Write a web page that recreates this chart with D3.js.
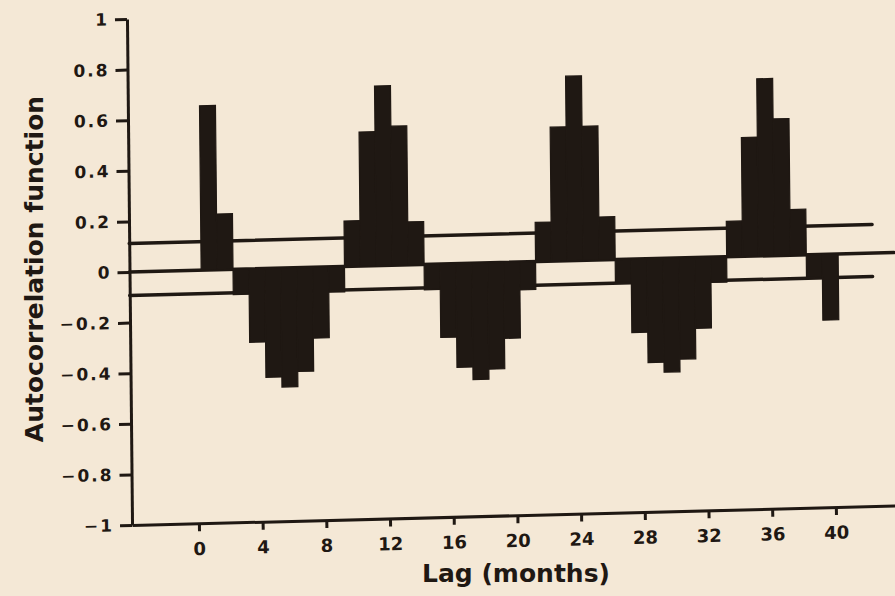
<!DOCTYPE html>
<html>
<head>
<meta charset="utf-8">
<script src="https://cdn.jsdelivr.net/npm/d3@7"></script>
<style>
  html, body { margin: 0; padding: 0; background: #f4e8d6; }
  svg { display: block; }
</style>
</head>
<body>
<script>
// ---- data ----
const lags = [1,2,3,4,5,6,7,8,9,10,11,12,13,14,15,16,17,18,19,20,
              21,22,23,24,25,26,27,28,29,30,31,32,33,34,35,36,37,38,39,40];
const acf  = [0.65, 0.22, -0.10, -0.29, -0.43, -0.47, -0.41, -0.28, -0.10,
              0.18, 0.53, 0.71, 0.55, 0.17,
              -0.10, -0.29, -0.41, -0.46, -0.42, -0.30, -0.11,
              0.155, 0.53, 0.73, 0.53, 0.17,
              -0.09, -0.29, -0.41, -0.45, -0.40, -0.28, -0.10,
              0.14, 0.47, 0.70, 0.54, 0.18,
              -0.09, -0.26];
const upperLimit = 0.113;
const lowerLimit = -0.093;
const xTicks = [0,4,8,12,16,20,24,28,32,36,40];
const yTicks = [1,0.8,0.6,0.4,0.2,0,-0.2,-0.4,-0.6,-0.8,-1];
const yTickLabels = ["1","0.8","0.6","0.4","0.2","0","\u22120.2","\u22120.4","\u22120.6","\u22120.8","\u22121"];
const xTitle = "Lag (months)";
const yTitle = "Autocorrelation function";

// ---- layout ----
const W = 895, H = 596;
const ink = "#1f1813";
const paper = "#f4e8d6";
const font = "'DejaVu Sans', sans-serif";

const svg = d3.select("body").append("svg")
  .attr("width", W).attr("height", H);
svg.append("rect").attr("width", W).attr("height", H).attr("fill", paper);

const x = d3.scaleLinear().domain([-4.2, 44.5]).range([129.5, 905]);
const y = d3.scaleLinear().domain([-1, 1]).range([525, 19]);

// slight skew of the scanned original
const g = svg.append("g")
  .attr("transform", "translate(130,272) matrix(1,-0.0255,0.01,1,0,0) translate(-130,-272)");

// confidence / zero lines
const lines = [
  {v: upperLimit, end: 42.45},
  {v: 0, end: 43.8},
  {v: lowerLimit, end: 42.45}
];
g.selectAll("line.ref").data(lines).join("line")
  .attr("class", "ref")
  .attr("x1", x(-4.2)).attr("x2", d => x(d.end))
  .attr("y1", d => y(d.v)).attr("y2", d => y(d.v))
  .attr("stroke", ink).attr("stroke-width", 3.5)
  .attr("stroke-linecap", "round");

// bars
const barData = lags.map((l, i) => ({lag: l, v: acf[i]}));
g.selectAll("rect.bar").data(barData).join("rect")
  .attr("class", "bar")
  .attr("x", d => x(d.lag - 0.7))
  .attr("width", d => x(d.lag + 0.3) - x(d.lag - 0.7))
  .attr("y", d => Math.min(y(d.v), y(0)))
  .attr("height", d => Math.abs(y(d.v) - y(0)))
  .attr("fill", ink)
  .attr("stroke", ink).attr("stroke-width", 1.2);

// axes
const yAxis = d3.axisLeft(y)
  .tickValues(yTicks)
  .tickFormat((d, i) => yTickLabels[i])
  .tickSize(12).tickSizeOuter(0).tickPadding(6);
const ya = g.append("g").attr("transform", `translate(${x(-4.2)},0)`).call(yAxis);

const xAxis = d3.axisBottom(x)
  .tickValues(xTicks)
  .tickFormat(d => String(d))
  .tickSize(8).tickSizeOuter(0).tickPadding(11);
const xa = g.append("g").attr("transform", `translate(0,${y(-1)})`).call(xAxis);

[ya, xa].forEach(a => {
  a.select(".domain").attr("stroke", ink).attr("stroke-width", 3);
  a.selectAll(".tick line").attr("stroke", ink).attr("stroke-width", 3);
  a.selectAll(".tick text").attr("fill", ink).attr("font-family", font).attr("font-weight", "bold");
});
ya.selectAll(".tick text").attr("font-size", 17).attr("letter-spacing", "2px");
xa.selectAll(".tick text").attr("font-size", 18);

// titles
svg.append("text")
  .attr("x", 516).attr("y", 582)
  .attr("text-anchor", "middle")
  .attr("font-family", font).attr("font-weight", "bold").attr("font-size", 25)
  .attr("fill", ink)
  .text(xTitle);

svg.append("text")
  .attr("transform", "translate(43,269) rotate(-90)")
  .attr("text-anchor", "middle")
  .attr("font-family", font).attr("font-weight", "bold").attr("font-size", 25)
  .attr("fill", ink)
  .text(yTitle);
</script>
</body>
</html>
